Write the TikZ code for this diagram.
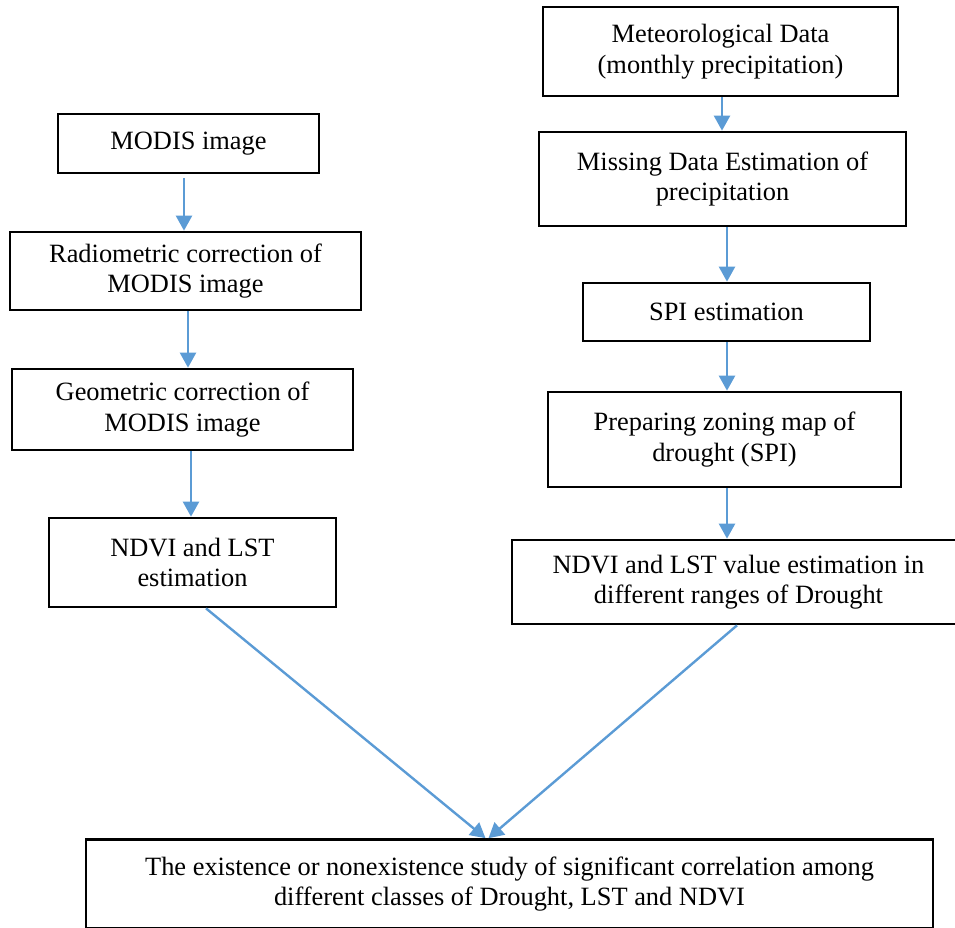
\documentclass[tikz,border=0pt]{standalone}
\usepackage{fontspec}
\setmainfont{Liberation Serif}
\usetikzlibrary{arrows.meta}
\definecolor{arrblue}{HTML}{5B9BD5}
\begin{document}
\begin{tikzpicture}[x=1pt,y=-1pt,
  box/.style={draw=black,line width=2.7pt,align=center,inner sep=0pt,
    font=\fontsize{26.4}{30.5}\selectfont},
  arr/.style={draw=arrblue,line width=2.4pt,-{Triangle[width=16pt,length=15pt]}}]
\useasboundingbox (0,0) rectangle (955,928);
\clip (0,0) rectangle (955,928);
% left column
\node[box,minimum width=261pt,minimum height=59pt] (modis) at (188.5,143.5) {MODIS image};
\node[box,minimum width=351pt,minimum height=78pt] (radio) at (185.5,271) {Radiometric correction of\\MODIS image};
\node[box,minimum width=341pt,minimum height=81pt] (geo) at (182.5,409.5) {Geometric correction of\\MODIS image};
\node[box,minimum width=287pt,minimum height=89pt] (ndvi) at (192.5,562.5) {NDVI and LST\\estimation};
% right column
\node[box,minimum width=355pt,minimum height=89pt] (met) at (720.5,51.5) {Meteorological Data\\(monthly precipitation)};
\node[box,minimum width=367pt,minimum height=94pt] (miss) at (722.5,179) {Missing Data Estimation of\\precipitation};
\node[box,minimum width=287pt,minimum height=58pt] (spi) at (726.5,312) {SPI estimation};
\node[box,minimum width=353pt,minimum height=95pt] (prep) at (724.5,439.5) {Preparing zoning map of\\drought (SPI)};
\node[box,minimum width=453pt,minimum height=84pt] (val) at (738.5,582) {NDVI and LST value estimation in\\different ranges of Drought};
% bottom
\node[box,minimum width=847pt,minimum height=89pt] (study) at (509.5,884) {The existence or nonexistence study of significant correlation among\\different classes of Drought, LST and NDVI};
% arrows left
\draw[arr] ([xshift=-4.5pt,yshift=-4pt]modis.south) -- ([xshift=-4.5pt]modis.south |- radio.north);
\draw[arr] ([xshift=2.5pt]radio.south) -- ([xshift=2.5pt]radio.south |- geo.north);
\draw[arr] ([xshift=8.5pt]geo.south) -- ([xshift=8.5pt]geo.south |- ndvi.north);
% arrows right
\draw[arr] ([xshift=1.5pt]met.south) -- ([xshift=1.5pt]met.south |- miss.north);
\draw[arr] ([xshift=4.5pt]miss.south) -- ([xshift=4.5pt]miss.south |- spi.north);
\draw[arr] ([xshift=0.5pt]spi.south) -- ([xshift=0.5pt]spi.south |- prep.north);
\draw[arr] ([xshift=2.5pt]prep.south) -- ([xshift=2.5pt]prep.south |- val.north);
% diagonals
\draw[arr] ([xshift=13.5pt]ndvi.south) -- ([xshift=-24pt]study.north);
\draw[arr] ([xshift=-1.5pt]val.south) -- ([xshift=-21pt]study.north);
\end{tikzpicture}
\end{document}
